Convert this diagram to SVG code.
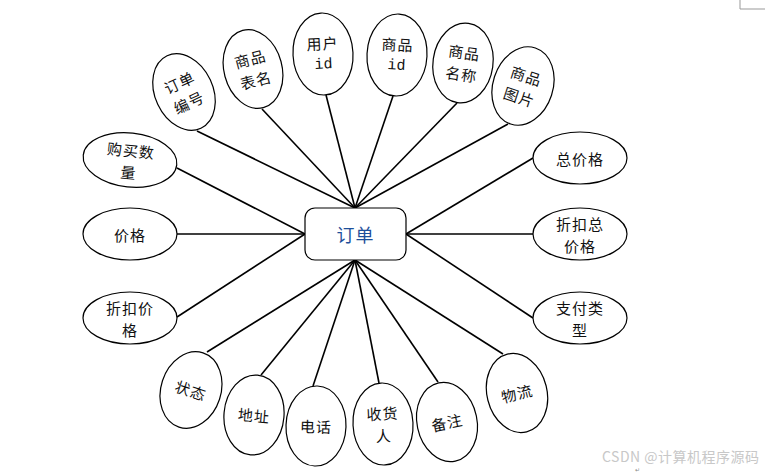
<svg xmlns="http://www.w3.org/2000/svg" width="765" height="475" viewBox="0 0 765 475">
<style>
.e{fill:#fff;stroke:#000;stroke-width:1.2}
.t{font-family:"Noto Sans CJK SC","Noto Sans",sans-serif;font-size:15px;fill:#111;text-anchor:middle;dominant-baseline:central;letter-spacing:1px}
.m{font-family:"Liberation Mono",monospace;font-size:15px;fill:#111;text-anchor:middle;dominant-baseline:central}
#conn line{stroke:#000;stroke-width:1.6}
</style>
<rect width="765" height="475" fill="#fff"/>
<path d="M740 0V9H765" fill="none" stroke="#999" stroke-width="1"/>
<g id="conn">
<line x1="197" y1="131" x2="355" y2="208"/>
<line x1="262" y1="109" x2="355" y2="208"/>
<line x1="326" y1="95" x2="355" y2="208"/>
<line x1="393" y1="96" x2="355" y2="208"/>
<line x1="457" y1="103" x2="355" y2="208"/>
<line x1="508" y1="124" x2="355" y2="208"/>
<line x1="533" y1="158" x2="406" y2="234"/>
<line x1="533" y1="234" x2="406" y2="234"/>
<line x1="533" y1="318" x2="406" y2="234"/>
<line x1="177" y1="168" x2="305" y2="234"/>
<line x1="177" y1="234" x2="305" y2="234"/>
<line x1="177" y1="317" x2="305" y2="234"/>
<line x1="207" y1="352" x2="355" y2="260"/>
<line x1="261" y1="375" x2="355" y2="260"/>
<line x1="313" y1="386" x2="355" y2="260"/>
<line x1="379" y1="383" x2="355" y2="260"/>
<line x1="438" y1="382" x2="355" y2="260"/>
<line x1="503" y1="354" x2="355" y2="260"/>
</g>
<g id="order">
<rect x="305" y="208" width="101" height="52" rx="10" fill="#fff" stroke="#000" stroke-width="1.2"/>
<text x="355.5" y="234" class="t" style="fill:#1e4f9a;font-size:18px">订单</text>
</g>
<g id="n1" transform="rotate(-25 184 92)">
<ellipse class="e" cx="184" cy="92" rx="29" ry="40"/>
<text class="t" x="184" y="81">订单</text><text class="t" x="184" y="103">编号</text>
</g>
<g id="n2" transform="rotate(-15 253 69)">
<ellipse class="e" cx="253" cy="69" rx="29" ry="40"/>
<text class="t" x="253" y="58">商品</text><text class="t" x="253" y="80">表名</text>
</g>
<g id="n3" transform="rotate(-3 323 54)">
<ellipse class="e" cx="323" cy="54" rx="30" ry="41"/>
<text class="t" x="323" y="43">用户</text><text class="m" x="323" y="65">id</text>
</g>
<g id="n4" transform="rotate(3 397 55)">
<ellipse class="e" cx="397" cy="55" rx="30" ry="41"/>
<text class="t" x="397" y="44">商品</text><text class="m" x="397" y="66">id</text>
</g>
<g id="n5" transform="rotate(8 463 63)">
<ellipse class="e" cx="463" cy="63" rx="30" ry="40"/>
<text class="t" x="463" y="52">商品</text><text class="t" x="463" y="74">名称</text>
</g>
<g id="n6" transform="rotate(18 523 86)">
<ellipse class="e" cx="523" cy="86" rx="30" ry="40"/>
<text class="t" x="523" y="75">商品</text><text class="t" x="523" y="97">图片</text>
</g>
<g id="n7">
<ellipse class="e" cx="580" cy="158" rx="47" ry="26"/>
<text class="t" x="580" y="158">总价格</text>
</g>
<g id="n8">
<ellipse class="e" cx="580" cy="234" rx="47" ry="26"/>
<text class="t" x="580" y="223">折扣总</text><text class="t" x="580" y="245">价格</text>
</g>
<g id="n9">
<ellipse class="e" cx="580" cy="318" rx="47" ry="26"/>
<text class="t" x="580" y="307">支付类</text><text class="t" x="580" y="329">型</text>
</g>
<g id="n10" transform="rotate(6 130 160)">
<ellipse class="e" cx="130" cy="160" rx="47" ry="27"/>
<text class="t" x="130" y="150">购买数</text><text class="t" x="130" y="172">量</text>
</g>
<g id="n11">
<ellipse class="e" cx="130" cy="234" rx="47" ry="26"/>
<text class="t" x="130" y="234">价格</text>
</g>
<g id="n12">
<ellipse class="e" cx="130" cy="318" rx="47" ry="26"/>
<text class="t" x="130" y="307">折扣价</text><text class="t" x="130" y="329">格</text>
</g>
<g id="n13" transform="rotate(18 191 390)">
<ellipse class="e" cx="191" cy="390" rx="30" ry="39"/>
<text class="t" x="191" y="390">状态</text>
</g>
<g id="n14" transform="rotate(5 254 415)">
<ellipse class="e" cx="254" cy="415" rx="30" ry="40"/>
<text class="t" x="254" y="415">地址</text>
</g>
<g id="n15" transform="rotate(2 316 426)">
<ellipse class="e" cx="316" cy="426" rx="30" ry="40"/>
<text class="t" x="316" y="426">电话</text>
</g>
<g id="n16" transform="rotate(-3 383 424)">
<ellipse class="e" cx="383" cy="424" rx="30" ry="41"/>
<text class="t" x="383" y="413">收货</text><text class="t" x="383" y="435">人</text>
</g>
<g id="n17" transform="rotate(-12 447 422)">
<ellipse class="e" cx="447" cy="422" rx="30" ry="40"/>
<text class="t" x="447" y="422">备注</text>
</g>
<g id="n18" transform="rotate(-14 517 393)">
<ellipse class="e" cx="517" cy="393" rx="30" ry="40"/>
<text class="t" x="517" y="393">物流</text>
</g>
<text x="602" y="456" style="font-family:'Noto Sans CJK SC','Noto Sans',sans-serif;font-size:14px;fill:#c8c8c8;letter-spacing:0.5px" dominant-baseline="central">CSDN @计算机程序源码</text>
<text x="635" y="472" style="font-family:'DejaVu Sans',sans-serif;font-size:6px;fill:#888">↵</text>
</svg>
